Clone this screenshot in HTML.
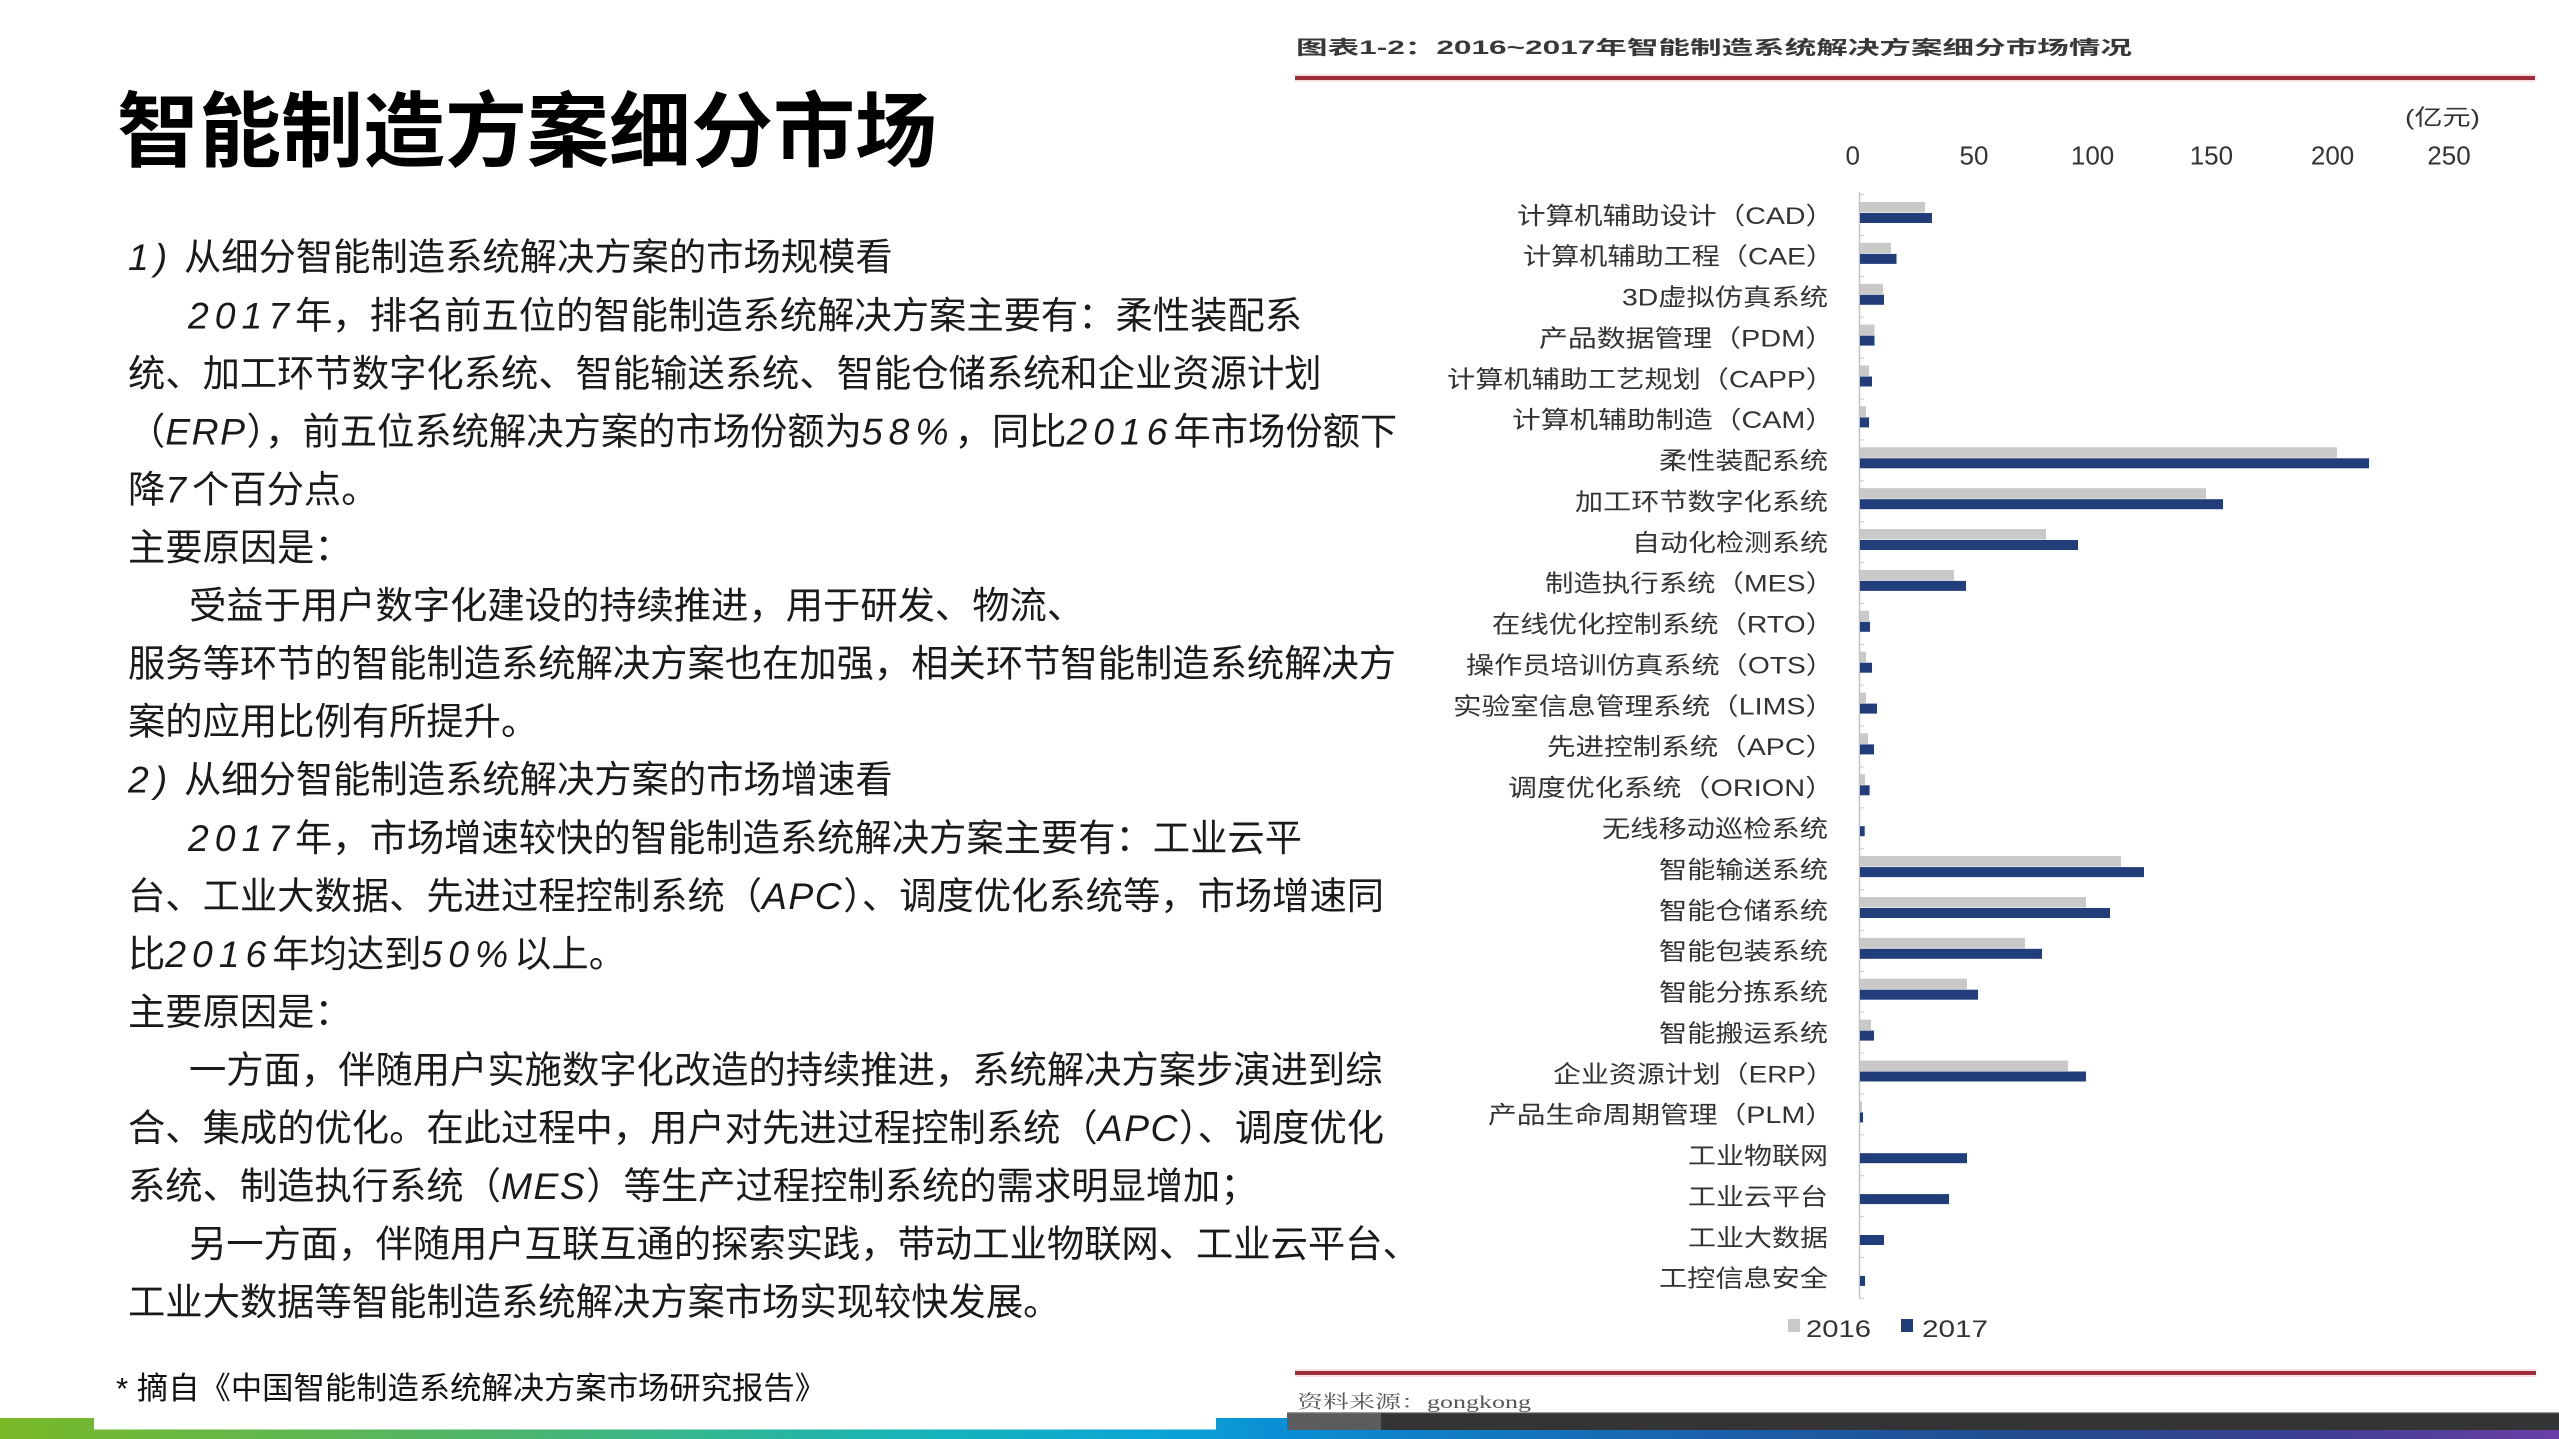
<!DOCTYPE html>
<html>
<head>
<meta charset="utf-8">
<style>
  html,body{margin:0;padding:0;background:#fff;}
  body{width:2559px;height:1439px;overflow:hidden;position:relative;}
  svg{position:absolute;left:0;top:0;}
  .b{font-family:"Liberation Sans","Noto Sans CJK SC",sans-serif;font-size:37.3px;fill:#1a1a1a;}
  .s{font-family:"Liberation Sans",sans-serif;font-style:italic;letter-spacing:6px;}
  .sl{font-family:"Liberation Sans",sans-serif;font-style:italic;letter-spacing:1.5px;}
  .lab{font-family:"Liberation Sans","Noto Sans CJK SC",sans-serif;font-size:24px;fill:#333;}
  .tk{font-family:"Liberation Sans",sans-serif;font-size:26px;fill:#333;}
  .lg{font-family:"Liberation Sans",sans-serif;font-size:24px;fill:#333;}
</style>
</head>
<body>
<svg width="2559" height="1439" viewBox="0 0 2559 1439" xmlns="http://www.w3.org/2000/svg">
  <defs>
    <linearGradient id="gb" x1="0" y1="0" x2="1" y2="0">
      <stop offset="0" stop-color="#7ab828"/>
      <stop offset="0.2" stop-color="#4cb66e"/>
      <stop offset="0.35" stop-color="#19b5b5"/>
      <stop offset="0.45" stop-color="#0aa6d6"/>
      <stop offset="0.5" stop-color="#0a8fd4"/>
      <stop offset="0.67" stop-color="#1b60aa"/>
      <stop offset="0.8" stop-color="#224a8c"/>
      <stop offset="0.9" stop-color="#3c3f92"/>
      <stop offset="1" stop-color="#6a3fa5"/>
    </linearGradient>
  </defs>

  <!-- Slide title -->
  <text x="117" y="160" font-family="'Liberation Sans','Noto Sans CJK SC',sans-serif" font-size="82" font-weight="bold" fill="#000">智能制造方案细分市场</text>

  <!-- Body text -->
  <text class="b" x="128" y="270.2"><tspan class="s">1)</tspan><tspan x="184">从细分智能制造系统解决方案的市场规模看</tspan></text>
  <text class="b" x="188" y="328.3"><tspan class="s">2017</tspan>年，排名前五位的智能制造系统解决方案主要有：柔性装配系</text>
  <text class="b" x="128" y="386.3">统、加工环节数字化系统、智能输送系统、智能仓储系统和企业资源计划</text>
  <text class="b" x="128" y="444.4">（<tspan class="sl">ERP</tspan>），前五位系统解决方案的市场份额为<tspan class="s">58%</tspan>，同比<tspan class="s">2016</tspan>年市场份额下</text>
  <text class="b" x="128" y="502.4">降<tspan class="s">7</tspan>个百分点。</text>
  <text class="b" x="128" y="560.5">主要原因是：</text>
  <text class="b" x="189" y="618.6">受益于用户数字化建设的持续推进，用于研发、物流、</text>
  <text class="b" x="128" y="676.6">服务等环节的智能制造系统解决方案也在加强，相关环节智能制造系统解决方</text>
  <text class="b" x="128" y="734.7">案的应用比例有所提升。</text>
  <text class="b" x="128" y="792.7"><tspan class="s">2)</tspan><tspan x="184">从细分智能制造系统解决方案的市场增速看</tspan></text>
  <text class="b" x="188" y="850.8"><tspan class="s">2017</tspan>年，市场增速较快的智能制造系统解决方案主要有：工业云平</text>
  <text class="b" x="128" y="908.9">台、工业大数据、先进过程控制系统（<tspan class="sl">APC</tspan>）、调度优化系统等，市场增速同</text>
  <text class="b" x="128" y="966.9">比<tspan class="s">2016</tspan>年均达到<tspan class="s">50%</tspan>以上。</text>
  <text class="b" x="128" y="1025">主要原因是：</text>
  <text class="b" x="189" y="1083">一方面，伴随用户实施数字化改造的持续推进，系统解决方案步演进到综</text>
  <text class="b" x="128" y="1141.1">合、集成的优化。在此过程中，用户对先进过程控制系统（<tspan class="sl">APC</tspan>）、调度优化</text>
  <text class="b" x="128" y="1199.2">系统、制造执行系统（<tspan class="sl">MES</tspan>）等生产过程控制系统的需求明显增加；</text>
  <text class="b" x="189" y="1257.2">另一方面，伴随用户互联互通的探索实践，带动工业物联网、工业云平台、</text>
  <text class="b" x="128" y="1315.2">工业大数据等智能制造系统解决方案市场实现较快发展。</text>

  <!-- Footnote -->
  <text x="116" y="1399" font-family="'Liberation Sans','Noto Sans CJK SC',sans-serif" font-size="31" fill="#111" textLength="710" lengthAdjust="spacingAndGlyphs">* 摘自《中国智能制造系统解决方案市场研究报告》</text>

  <!-- Chart title -->
  <text x="1296" y="54" font-family="'Liberation Sans','Noto Sans CJK SC',sans-serif" font-size="19" font-weight="bold" fill="#383838" textLength="836" lengthAdjust="spacingAndGlyphs">图表1-2：2016~2017年智能制造系统解决方案细分市场情况</text>
  <rect x="1295" y="74" width="1240" height="8" fill="#f3c9cd" opacity="0.6"/>
  <rect x="1295" y="76" width="1240" height="4" fill="#9d2f3c"/>

  <!-- unit -->
  <text x="2405" y="125" font-family="'Liberation Sans','Noto Sans CJK SC',sans-serif" font-size="22" fill="#333" textLength="75" lengthAdjust="spacingAndGlyphs">(亿元)</text>

  <!-- tick labels -->
  <text class="tk" x="1852.7" y="164.5" text-anchor="middle">0</text>
  <text class="tk" x="1974" y="164.5" text-anchor="middle">50</text>
  <text class="tk" x="2092.6" y="164.5" text-anchor="middle">100</text>
  <text class="tk" x="2211.4" y="164.5" text-anchor="middle">150</text>
  <text class="tk" x="2332.6" y="164.5" text-anchor="middle">200</text>
  <text class="tk" x="2449" y="164.5" text-anchor="middle">250</text>

  <!-- axis -->
  <line x1="1859.5" y1="192" x2="1859.5" y2="1298" stroke="#c2c2c2" stroke-width="1.5"/>
  <g stroke="#d0d0d0" stroke-width="1.2">
    <line x1="1859" y1="194.6" x2="1864" y2="194.6"/>
    <line x1="1859" y1="235.5" x2="1864" y2="235.5"/>
    <line x1="1859" y1="276.4" x2="1864" y2="276.4"/>
    <line x1="1859" y1="317.2" x2="1864" y2="317.2"/>
    <line x1="1859" y1="358.1" x2="1864" y2="358.1"/>
    <line x1="1859" y1="399.0" x2="1864" y2="399.0"/>
    <line x1="1859" y1="439.9" x2="1864" y2="439.9"/>
    <line x1="1859" y1="480.8" x2="1864" y2="480.8"/>
    <line x1="1859" y1="521.6" x2="1864" y2="521.6"/>
    <line x1="1859" y1="562.5" x2="1864" y2="562.5"/>
    <line x1="1859" y1="603.4" x2="1864" y2="603.4"/>
    <line x1="1859" y1="644.3" x2="1864" y2="644.3"/>
    <line x1="1859" y1="685.2" x2="1864" y2="685.2"/>
    <line x1="1859" y1="726.0" x2="1864" y2="726.0"/>
    <line x1="1859" y1="766.9" x2="1864" y2="766.9"/>
    <line x1="1859" y1="807.8" x2="1864" y2="807.8"/>
    <line x1="1859" y1="848.7" x2="1864" y2="848.7"/>
    <line x1="1859" y1="889.6" x2="1864" y2="889.6"/>
    <line x1="1859" y1="930.4" x2="1864" y2="930.4"/>
    <line x1="1859" y1="971.3" x2="1864" y2="971.3"/>
    <line x1="1859" y1="1012.2" x2="1864" y2="1012.2"/>
    <line x1="1859" y1="1053.1" x2="1864" y2="1053.1"/>
    <line x1="1859" y1="1094.0" x2="1864" y2="1094.0"/>
    <line x1="1859" y1="1134.8" x2="1864" y2="1134.8"/>
    <line x1="1859" y1="1175.7" x2="1864" y2="1175.7"/>
    <line x1="1859" y1="1216.6" x2="1864" y2="1216.6"/>
    <line x1="1859" y1="1257.5" x2="1864" y2="1257.5"/>
    <line x1="1859" y1="1298.4" x2="1864" y2="1298.4"/>
  </g>

  <!-- category labels -->
  <g class="lab">
    <text x="1517" y="223.8" textLength="317" lengthAdjust="spacingAndGlyphs">计算机辅助设计（CAD）</text>
    <text x="1523" y="264.7" textLength="311" lengthAdjust="spacingAndGlyphs">计算机辅助工程（CAE）</text>
    <text x="1622" y="305.6" textLength="206" lengthAdjust="spacingAndGlyphs">3D虚拟仿真系统</text>
    <text x="1539" y="346.4" textLength="295" lengthAdjust="spacingAndGlyphs">产品数据管理（PDM）</text>
    <text x="1447" y="387.3" textLength="387" lengthAdjust="spacingAndGlyphs">计算机辅助工艺规划（CAPP）</text>
    <text x="1512" y="428.2" textLength="322" lengthAdjust="spacingAndGlyphs">计算机辅助制造（CAM）</text>
    <text x="1659" y="469.1" textLength="169" lengthAdjust="spacingAndGlyphs">柔性装配系统</text>
    <text x="1575" y="510.0" textLength="253" lengthAdjust="spacingAndGlyphs">加工环节数字化系统</text>
    <text x="1632" y="550.8" textLength="196" lengthAdjust="spacingAndGlyphs">自动化检测系统</text>
    <text x="1545" y="591.7" textLength="289" lengthAdjust="spacingAndGlyphs">制造执行系统（MES）</text>
    <text x="1492" y="632.6" textLength="342" lengthAdjust="spacingAndGlyphs">在线优化控制系统（RTO）</text>
    <text x="1466" y="673.5" textLength="368" lengthAdjust="spacingAndGlyphs">操作员培训仿真系统（OTS）</text>
    <text x="1453" y="714.4" textLength="381" lengthAdjust="spacingAndGlyphs">实验室信息管理系统（LIMS）</text>
    <text x="1547" y="755.2" textLength="287" lengthAdjust="spacingAndGlyphs">先进控制系统（APC）</text>
    <text x="1508" y="796.1" textLength="326" lengthAdjust="spacingAndGlyphs">调度优化系统（ORION）</text>
    <text x="1602" y="837.0" textLength="226" lengthAdjust="spacingAndGlyphs">无线移动巡检系统</text>
    <text x="1659" y="877.9" textLength="169" lengthAdjust="spacingAndGlyphs">智能输送系统</text>
    <text x="1659" y="918.8" textLength="169" lengthAdjust="spacingAndGlyphs">智能仓储系统</text>
    <text x="1659" y="959.6" textLength="169" lengthAdjust="spacingAndGlyphs">智能包装系统</text>
    <text x="1659" y="1000.5" textLength="169" lengthAdjust="spacingAndGlyphs">智能分拣系统</text>
    <text x="1659" y="1041.4" textLength="169" lengthAdjust="spacingAndGlyphs">智能搬运系统</text>
    <text x="1553" y="1082.3" textLength="281" lengthAdjust="spacingAndGlyphs">企业资源计划（ERP）</text>
    <text x="1488" y="1123.2" textLength="346" lengthAdjust="spacingAndGlyphs">产品生命周期管理（PLM）</text>
    <text x="1688" y="1164.0" textLength="140" lengthAdjust="spacingAndGlyphs">工业物联网</text>
    <text x="1688" y="1204.9" textLength="140" lengthAdjust="spacingAndGlyphs">工业云平台</text>
    <text x="1688" y="1245.8" textLength="140" lengthAdjust="spacingAndGlyphs">工业大数据</text>
    <text x="1659" y="1286.7" textLength="169" lengthAdjust="spacingAndGlyphs">工控信息安全</text>
  </g>

  <!-- 2016 bars (gray) -->
  <g fill="#c9c9c9">
    <rect x="1860" y="202.0" width="65" height="10.5"/>
    <rect x="1860" y="242.9" width="31" height="10.5"/>
    <rect x="1860" y="283.8" width="23" height="10.5"/>
    <rect x="1860" y="324.6" width="14.5" height="10.5"/>
    <rect x="1860" y="365.5" width="9" height="10.5"/>
    <rect x="1860" y="406.4" width="6" height="10.5"/>
    <rect x="1860" y="447.3" width="477" height="10.5"/>
    <rect x="1860" y="488.2" width="346" height="10.5"/>
    <rect x="1860" y="529.0" width="186" height="10.5"/>
    <rect x="1860" y="569.9" width="94" height="10.5"/>
    <rect x="1860" y="610.8" width="9" height="10.5"/>
    <rect x="1860" y="651.7" width="6" height="10.5"/>
    <rect x="1860" y="692.6" width="6" height="10.5"/>
    <rect x="1860" y="733.4" width="8" height="10.5"/>
    <rect x="1860" y="774.3" width="5" height="10.5"/>
    <rect x="1860" y="856.1" width="261" height="10.5"/>
    <rect x="1860" y="897.0" width="226" height="10.5"/>
    <rect x="1860" y="937.8" width="165" height="10.5"/>
    <rect x="1860" y="978.7" width="107" height="10.5"/>
    <rect x="1860" y="1019.6" width="11" height="10.5"/>
    <rect x="1860" y="1060.5" width="208" height="10.5"/>
    <rect x="1860" y="1101.4" width="2" height="10.5"/>
  </g>
  <!-- 2017 bars (navy) -->
  <g fill="#213d7a">
    <rect x="1860" y="213.0" width="72" height="10"/>
    <rect x="1860" y="253.9" width="36.5" height="10"/>
    <rect x="1860" y="294.8" width="24" height="10"/>
    <rect x="1860" y="335.6" width="14.5" height="10"/>
    <rect x="1860" y="376.5" width="12" height="10"/>
    <rect x="1860" y="417.4" width="9" height="10"/>
    <rect x="1860" y="458.3" width="509" height="10"/>
    <rect x="1860" y="499.2" width="363" height="10"/>
    <rect x="1860" y="540.0" width="218" height="10"/>
    <rect x="1860" y="580.9" width="106" height="10"/>
    <rect x="1860" y="621.8" width="10" height="10"/>
    <rect x="1860" y="662.7" width="12" height="10"/>
    <rect x="1860" y="703.6" width="17" height="10"/>
    <rect x="1860" y="744.4" width="14" height="10"/>
    <rect x="1860" y="785.3" width="9.6" height="10"/>
    <rect x="1860" y="826.2" width="4.7" height="10"/>
    <rect x="1860" y="867.1" width="284" height="10"/>
    <rect x="1860" y="908.0" width="250" height="10"/>
    <rect x="1860" y="948.8" width="182" height="10"/>
    <rect x="1860" y="989.7" width="118" height="10"/>
    <rect x="1860" y="1030.6" width="14" height="10"/>
    <rect x="1860" y="1071.5" width="226" height="10"/>
    <rect x="1860" y="1112.4" width="3" height="10"/>
    <rect x="1860" y="1153.2" width="107" height="10"/>
    <rect x="1860" y="1194.1" width="89" height="10"/>
    <rect x="1860" y="1235.0" width="24" height="10"/>
    <rect x="1860" y="1275.9" width="5" height="10"/>
  </g>

  <!-- legend -->
  <rect x="1788" y="1319" width="12" height="13" fill="#c9c9c9"/>
  <text class="lg" x="1806" y="1337" textLength="65" lengthAdjust="spacingAndGlyphs">2016</text>
  <rect x="1901" y="1319" width="12" height="13" fill="#213d7a"/>
  <text class="lg" x="1922" y="1337" textLength="66" lengthAdjust="spacingAndGlyphs">2017</text>

  <!-- bottom red rule -->
  <rect x="1295" y="1369" width="1241" height="8" fill="#f3c9cd" opacity="0.6"/>
  <rect x="1295" y="1371" width="1241" height="4" fill="#9d2f3c"/>

  <!-- source -->
  <text x="1297" y="1408" font-family="'Liberation Serif','Noto Serif CJK SC',serif" font-size="18" fill="#555" textLength="234" lengthAdjust="spacingAndGlyphs">资料来源：gongkong</text>

  <!-- bottom bars -->
  <rect x="0" y="1418" width="2559" height="21" fill="url(#gb)"/>
  <rect x="94" y="1418" width="1122" height="11.5" fill="#ffffff"/>
  <rect x="1287" y="1412" width="1272" height="18" fill="#343434"/>
  <rect x="1287" y="1412" width="94" height="18" fill="#5c5c5c"/>
  <rect x="1287" y="1412" width="1272" height="1.2" fill="#9a9a9a"/>
</svg>
</body>
</html>
